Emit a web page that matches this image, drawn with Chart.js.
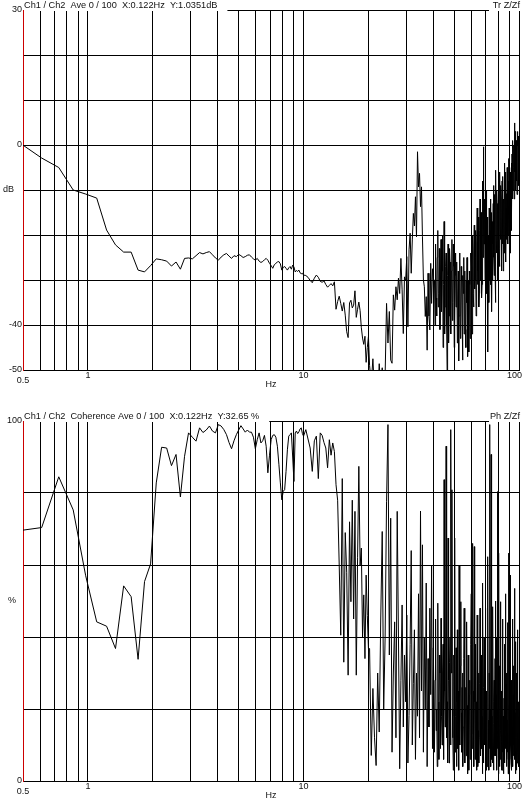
<!DOCTYPE html>
<html>
<head>
<meta charset="utf-8">
<script src="https://cdn.jsdelivr.net/npm/chart.js@4.4.1/dist/chart.umd.min.js"></script>
<style>
    html, body { margin: 0; padding: 0; background: #fff; }
    canvas { display: block; }
</style>
</head>
<body>
<canvas id="trChart" width="524" height="400"></canvas>
<canvas id="cohChart" width="524" height="401"></canvas>
<script>
const df = 0.1221; // Hz per FFT bin (X:0.122Hz)

// FFT bins that are plotted (every bin at the low end, thinned out higher up)
const bins = [
    4,5,6,7,8,9,10,11,12,13,14,15,16,17,18,19,20,21,22,23,24,25,26,27,28,29,30,31,32,33,
    34,35,36,37,38,39,40,41,42,43,44,45,46,47,48,49,50,51,52,53,54,55,56,57,58,59,60,61,62,63,
    64,65,66,67,68,69,70,71,72,73,74,75,76,77,78,79,80,81,82,
    84,86,88,90,92,94,96,98,100,102,104,106,108,110,112,114,116,118,120,122,
    124,126,128,130,132,134,136,138,140,142,144,146,148,150,152,154,156,158,160,162,164,
    166,169,172,175,178,181,184,187,190,193,196,199,202,205,208,211,214,217,220,223,
    226,229,232,235,238,241,244,247,250,253,256,259,262,265,268,271,274,277,280,283,
    286,289,292,295,298,301,304,307,310,313,316,319,322,325,328,
    332,334,336,338,
    340,342,344,346,348,350,352,354,356,358,
    360,362,364,366,368,370,372,374,376,378,
    380,382,384,386,388,390,392,394,396,398,
    400,402,404,406,408,410,412,414,416,418,
    420,422,424,426,428,430,432,434,436,438,
    440,442,444,446,448,450,452,454,456,458,
    460,462,464,466,468,470,472,474,476,478,
    480,482,484,486,488,490,492,494,496,498,
    500,502,504,506,508,510,512,514,516,518,
    520,522,524,526,528,530,532,534,536,538,
    540,542,544,546,548,550,552,554,556,558,
    560,562,564,566,568,570,572,574,576,578,
    580,582,584,586,588,590,592,594,596,598,
    600,602,604,606,608,610,612,614,616,618,
    620,622,624,626,628,630,632,634,636,638,
    640,642,644,646,648,650,652,654,656,658,
    660,662,664,666,668,670,672,674,676,678,
    680,682,684,686,688,690,692,694,696,698,
    700,702,704,706,708,710,712,714,716,718,
    720,722,724,726,728,730,732,734,736,738,
    740,742,744,746,748,750,752,754,756,758,
    760,762,764,766,768,770,772,774,776,778,
    780,782,784,786,788,790,792,794,796,798,
    800,802,804,806,808,810,812,814,816,818,
    820
];

// Tr Z/Zf, dB
const trDb = [
    0.3,-2.9,-5.0,-10.0,-10.9,-11.8,-18.9,-22.2,-23.8,-23.8,
    -27.8,-28.2,-26.8,-25.3,-25.5,-25.8,-26.9,-26.0,-27.6,-25.2,
    -25.1,-25.3,-24.6,-23.9,-24.2,-23.9,-23.7,-24.4,-25.1,-25.6,
    -24.9,-24.4,-24.1,-24.7,-25.2,-24.6,-24.8,-24.3,-24.6,-25.0,
    -24.8,-24.5,-24.4,-24.9,-25.3,-25.6,-25.2,-25.8,-26.1,-25.9,
    -25.5,-25.2,-25.6,-26.3,-26.8,-27.4,-26.6,-26.3,-26.0,-25.9,
    -26.4,-27.8,-27.2,-27.0,-27.4,-27.8,-27.3,-27.0,-27.6,-26.7,
    -27.1,-28.2,-27.9,-28.1,-27.8,-28.4,-28.6,-28.5,-28.9,
    -29.0,-29.4,-30.1,-30.6,-29.6,-28.9,-29.4,-30.3,-30.5,-30.2,
    -31.0,-31.6,-31.2,-30.8,-31.3,-30.4,-36.5,-34.8,-33.6,-35.2,
    -36.9,-35.0,-37.8,-41.5,-42.8,-35.1,-34.5,-36.2,-35.6,-32.4,
    -38.3,-36.5,-34.9,-36.8,-40.6,-42.9,-44.3,-42.5,-48.3,-45.0,
    -42.6,
    -49.0,-53.0,-47.5,-55.0,-50.5,-56.0,-48.6,-54.0,-49.5,-58.0,
    -51.0,-35.2,-44.0,-37.0,-47.8,-48.5,-33.3,-36.7,-31.5,-34.4,
    -29.6,-33.0,-25.2,-32.2,-41.9,-29.3,-30.2,-24.8,-40.4,-23.3,
    -19.6,-28.5,-21.1,-15.2,-18.0,-11.5,-20.4,-1.5,-9.3,-6.3,
    -13.7,-9.3,-20.4,-30.0,-31.5,-38.1,-33.7,-45.6,-28.5,-38.0,
    -41.1,-26.3,-35.2,-27.5,-30.0,
    -30,-40,-22,-34,
    -38,-25,-19,-36,-33,-23,-41,-30,-21,-37,
    -28,-20,-45,-31,-17,-42,-36,-27,-24,-40,
    -50,-29,-22,-44,-38,-23,-26,-37,-42,-28,
    -21,-39,-35,-22,-27,-45,-40,-29,-24,-36,
    -32,-26,-44,-34,-28,-48,-38,-24,-26,-43,
    -40,-27,-30,-38,-47.8,-29,-33,-25,-42,-36,
    -28,-41,-45,-30,-35,-25,-39.6,-47,-30,-36,
    -46,-28,-31,-43,-38,-24,-27,-35,-42,-29,
    -20,-33,-36,-24,-17.8,-32,-30,-19,-25,-38,
    -34,-22,-14,-31,-28,-16,-21,-36,-33,-19,
    -12,-30,-26,-15,-19,-34,-31,-17,-8,-25,
    -0.4,-18,-22,-12,-15,-30,-28,-14,-10,-24,
    -33,-16,-18,-29,-46,-20,-24,-35,-14,-27,
    -30,-19,-12,-31,-26,-15,-37,-22,-17,-30,
    -22,-13,-9,-25,-29,-11,-16,-27,-35,-18,
    -5.6,-20,-24,-10,-13,-26,-30,-14,-20,-8,
    -11,-23,-27,-13,-6,-18,-21,-9,-15,-28,
    -25,-12,-8,-22,-18,-7,-28,-15,-12,-24,
    -20,-9,-4,-19,-16,-6,-26,-14,-10.8,-21,
    -18,-5,-7,-17,-22,-8,-12,-20,-3,-14,
    -15,-5,-24,-11,-6,-16,-19,-4,-9,-15,
    -2,-9,-12,-1,1,-10,-8,0,-5,-12,
    4.9,-4,-6,3,2,-7,-10,1,0,-8,
    -3,-11,3,-2,-8,0,2,-7,-4,-9,
    1
];

// Coherence, %
const cohPct = [
    69.6,70.4,84.5,75.3,57.0,44.2,43.0,36.8,54.2,51.2,
    33.8,55.4,60.3,82.8,92.7,92.5,87.6,90.7,78.9,90.2,
    96.7,95.5,94.4,98.1,96.8,97.5,98.6,97.2,96.7,99.0,
    98.6,97.6,96.2,94.0,92.3,94.5,96.2,97.5,98.7,97.8,
    96.9,97.5,96.9,96.9,95.5,92.3,94.8,96.7,93.9,94.5,
    96.0,93.0,85.6,90.5,94.8,96.0,96.2,95.5,93.0,88.0,
    82.8,78.1,80.5,80.9,86.0,92.0,95.8,96.2,96.7,90.0,
    83.2,96.7,97.2,96.5,97.0,97.8,98.1,96.5,95.8,
    97.6,95.0,92.5,86.0,94.5,95.8,84.0,96.7,96.0,94.0,
    92.5,87.0,94.8,90.5,93.9,91.5,82.3,78.0,60.0,40.5,
    84.0,33.0,69.0,58.0,29.4,72.0,49.8,78.0,45.0,74.9,
    29.4,62.0,87.4,60.0,64.7,40.0,51.7,34.0,57.2,46.0,
    36.8,
    36.8,7.1,25.7,12.0,4.3,30.0,13.6,45.0,69.3,20.0,
    40.0,77.7,99.0,35.0,73.0,8.0,30.0,44.2,12.0,74.9,
    40.0,3.4,28.0,48.9,15.0,35.0,22.0,46.1,5.0,18.2,
    38.0,64.0,10.0,27.0,42.0,6.0,30.0,18.0,52.0,12.0,
    75.0,25.0,65.6,8.0,40.0,20.0,55.0,4.0,34.0,15.0,
    48.0,24.0,60.0,9.0,37.0,
    8,28,45,14,
    20,4,49.4,22,6,35,30,9,45.2,18,
    10,30,38,6,83.7,25,15,40,93,12,
    22,5,67.5,28,5,33,40,10,97.6,30,
    80.9,20,12,3,35,18,67.5,8,18,37,
    4,22,42,9,25,3,60,16,10,32,
    49.8,19,8,26,30,4,15,34,48,11,
    5,20,26,7,44.2,21,12,2,35,16,
    3,24,28,6,20,38,52,13,9,30,
    66,25,14,4,65.1,22,6,17,38,8,
    22,3,46.1,19,4,14,30,5,12,27,
    48,15,7,24,35,9,18,2,55,20,
    5,26,40,10,14,31,48,12,3,19,
    25,4,8,21,62.3,17,12,3,30,9,
    99,14,20,4,90.7,26,6,18,35,5,
    48.4,16,3,22,28,7,15,34,50,11,
    7,24,40,3,20,9,80.4,18,10,2,
    63.3,21,4,15,32,6,49.8,14,12,3,
    25,11,3,29,45,8,18,2,8,23,
    38,12,5,20,52,9,14,27,30,4,
    6,17,44,8,20,2,63.3,13,2,21,
    35,6,12,25,57.2,10,5,18,28,3,
    15,4,45,13,4,24,32,7,10,30,
    53.5,9,6,19,25,2,38.7,12,3,16,
    30,5,12,26,42,8,5,20,22,4,
    18
];

const xGridHz = [0.5,0.6,0.7,0.8,0.9,1,2,3,4,5,6,7,8,9,10,20,30,40,50,60,70,80,90,100];
const xLabelsHz = [0.5, 1, 10, 100];
const yLabelsDb = [30, 0, -40, -50];
const yLabelsPct = [100, 0];

const FONT = '"Liberation Sans", Arial, sans-serif';

function toPoints(values) {
    return bins.map((k, i) => ({ x: k * df, y: values[i] }));
}

// header texts, unit label and the frequency labels under the plot
const axisText = {
    id: 'axisText',
    afterDraw(chart, args, opts) {
        const ctx = chart.ctx;
        const area = chart.chartArea;
        const xs = chart.scales.x;
        ctx.save();
        ctx.font = '9.2px ' + FONT;
        ctx.textBaseline = 'middle';
        const w = ctx.measureText(opts.title).width;
        ctx.fillStyle = '#fff';
        ctx.fillRect(area.left + 1, 0, w + 10, area.top + 1);
        ctx.fillRect(area.right - 30, 0, chart.width - area.right + 30, area.top + 1);
        ctx.fillStyle = '#111';
        ctx.textAlign = 'left';
        ctx.fillText(opts.title, area.left + 1, area.top - 5);
        ctx.textAlign = 'right';
        ctx.fillText(opts.tag, area.right + 1, area.top - 5);
        ctx.font = '9px ' + FONT;
        ctx.textAlign = 'left';
        ctx.fillText(opts.unit, opts.unitX, (area.top + area.bottom) / 2);
        ctx.textAlign = 'center';
        xLabelsHz.forEach((v, i) => {
            let px = xs.getPixelForValue(v);
            let py = area.bottom + 6;
            if (i === 0) py = area.bottom + 11;
            if (i === xLabelsHz.length - 1) px -= 4.5;
            ctx.fillText(String(v), px, py);
        });
        ctx.fillText('Hz', (area.left + area.right) / 2, area.bottom + 15);
        ctx.restore();
    }
};

function drawChart(id, values, yMin, yMax, yStep, yLabels, padTop, xHeight, text) {
    return new Chart(document.getElementById(id), {
        type: 'line',
        data: {
            datasets: [{
                data: toPoints(values),
                borderColor: '#000',
                borderWidth: 1,
                pointRadius: 0,
                tension: 0,
                fill: false,
            }],
        },
        options: {
            responsive: false,
            animation: false,
            devicePixelRatio: 1,
            layout: { padding: { top: padTop, right: 5, left: 0, bottom: 0 } },
            plugins: {
                legend: { display: false },
                tooltip: { enabled: false },
                axisText: text,
            },
            scales: {
                x: {
                    type: 'logarithmic',
                    min: 0.5,
                    max: 100,
                    afterBuildTicks: s => { s.ticks = xGridHz.map(v => ({ value: v })); },
                    afterFit: s => { s.height = xHeight; },
                    ticks: { display: false },
                    grid: { color: '#000', lineWidth: 1, drawTicks: false },
                    border: { color: '#000' },
                },
                y: {
                    min: yMin,
                    max: yMax,
                    afterFit: s => { s.width = 23; },
                    ticks: {
                        stepSize: yStep,
                        padding: 1,
                        color: '#111',
                        font: { family: FONT, size: 9 },
                        callback: v => yLabels.includes(v) ? String(v) : '',
                    },
                    grid: { color: '#000', lineWidth: 1, drawTicks: false },
                    border: { color: '#cc0000' },
                },
            },
        },
        plugins: [axisText],
    });
}

drawChart('trChart', trDb, -50, 30, 10, yLabelsDb, 10, 30, {
    title: 'Ch1 / Ch2  Ave 0 / 100  X:0.122Hz  Y:1.0351dB',
    tag: 'Tr Z/Zf',
    unit: 'dB',
    unitX: 3,
});
drawChart('cohChart', cohPct, 0, 100, 20, yLabelsPct, 21, 20, {
    title: 'Ch1 / Ch2  Coherence Ave 0 / 100  X:0.122Hz  Y:32.65 %',
    tag: 'Ph Z/Zf',
    unit: '%',
    unitX: 8,
});
</script>
</body>
</html>
